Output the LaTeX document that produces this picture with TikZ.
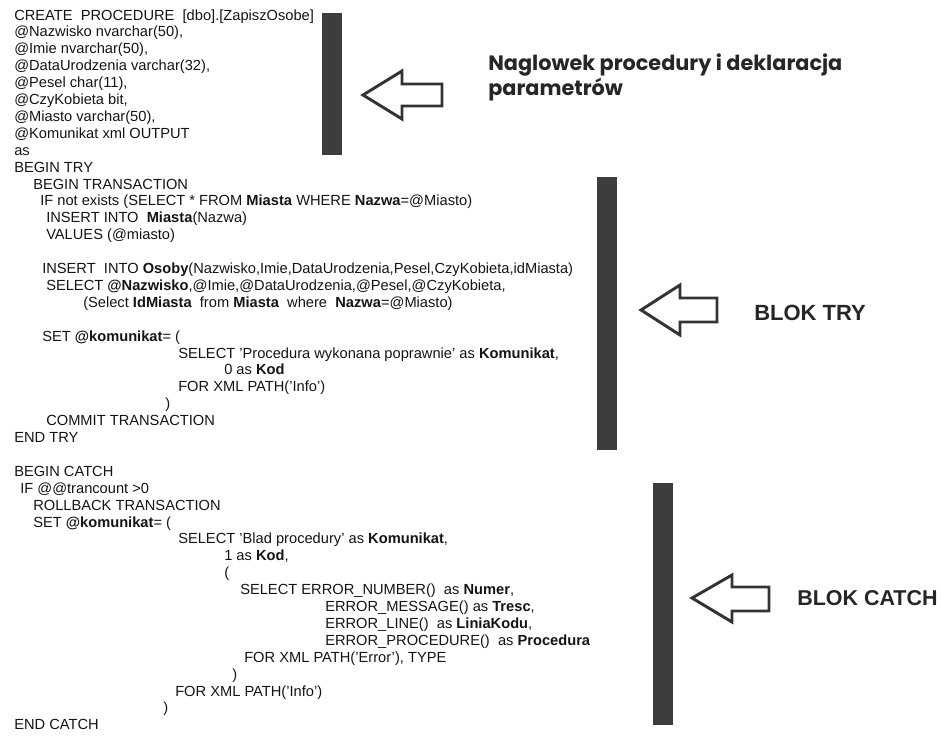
\documentclass[tikz,border=0pt]{standalone}
\usepackage{fontspec}
\setmainfont{Liberation Sans}
\newfontfamily\labfont{Poppins}
\begin{document}
\begin{tikzpicture}[x=0.75pt,y=-0.75pt]
\useasboundingbox (0,0) rectangle (941,736);
\tikzset{
  code/.style={anchor=base west,inner sep=0pt,font=\fontsize{11}{13}\selectfont,text=black!92},
  bar/.style={fill=black!76},
  harrow/.style={draw=black!80,line width=2.2pt,fill=white,line join=miter},
  headlab/.style={anchor=base west,inner sep=0pt,font=\labfont\bfseries\fontsize{15.6}{18}\selectfont,text=black!85},
  bloklab/.style={anchor=west,inner sep=0pt,font=\bfseries\fontsize{16.5}{18}\selectfont,text=black!85}
}
\newcommand\codeline[3]{\node[code] (l#1) at (#2,{20+(#1-1)*16.9}) {#3};}
% code text
\codeline{1}{14}{CREATE\ \ PROCEDURE\ \ [dbo].[ZapiszOsobe]}
\codeline{2}{14}{@Nazwisko nvarchar(50),}
\codeline{3}{14}{@Imie nvarchar(50),}
\codeline{4}{14}{@DataUrodzenia varchar(32),}
\codeline{5}{14}{@Pesel char(11),}
\codeline{6}{14}{@CzyKobieta bit,}
\codeline{7}{14}{@Miasto varchar(50),}
\codeline{8}{14}{@Komunikat xml OUTPUT}
\codeline{9}{14}{as}
\codeline{10}{14}{BEGIN TRY}
\codeline{11}{33}{BEGIN TRANSACTION}
\codeline{12}{40}{IF not exists (SELECT * FROM \textbf{Miasta} WHERE \textbf{Nazwa}=@Miasto)}
\codeline{13}{46}{INSERT INTO \ \textbf{Miasta}(Nazwa)}
\codeline{14}{46}{VALUES (@miasto)}
\codeline{16}{42}{INSERT \ INTO \textbf{Osoby}(Nazwisko,Imie,DataUrodzenia,Pesel,CzyKobieta,idMiasta)}
\codeline{17}{46}{SELECT \textbf{@Nazwisko},@Imie,@DataUrodzenia,@Pesel,@CzyKobieta,}
\codeline{18}{83}{(Select \textbf{IdMiasta} \ from \textbf{Miasta} \ where \ \textbf{Nazwa}=@Miasto)}
\codeline{20}{42}{SET \textbf{@komunikat}= (}
\codeline{21}{178}{SELECT 'Procedura wykonana poprawnie' as \textbf{Komunikat},}
\codeline{22}{224}{0 as \textbf{Kod}}
\codeline{23}{178}{FOR XML PATH('Info')}
\codeline{24}{165}{)}
\codeline{25}{46}{COMMIT TRANSACTION}
\codeline{26}{14}{END TRY}
\codeline{28}{14}{BEGIN CATCH}
\codeline{29}{20}{IF @@trancount >0}
\codeline{30}{33}{ROLLBACK TRANSACTION}
\codeline{31}{33}{SET \textbf{@komunikat}= (}
\codeline{32}{178}{SELECT 'Blad procedury' as \textbf{Komunikat},}
\codeline{33}{224}{1 as \textbf{Kod},}
\codeline{34}{224}{(}
\codeline{35}{240}{SELECT ERROR\_NUMBER() \ as \textbf{Numer},}
\codeline{36}{325}{ERROR\_MESSAGE() as \textbf{Tresc},}
\codeline{37}{325}{ERROR\_LINE() \ as \textbf{LiniaKodu},}
\codeline{38}{325}{ERROR\_PROCEDURE() \ as \textbf{Procedura}}
\codeline{39}{244}{FOR XML PATH('Error'), TYPE}
\codeline{40}{232}{)}
\codeline{41}{175}{FOR XML PATH('Info')}
\codeline{42}{163}{)}
\codeline{43}{14}{END CATCH}
% bars
\fill[bar] (322,13) rectangle (342,155);
\fill[bar] (597,177) rectangle (617,450);
\fill[bar] (653,483) rectangle (673,725);
% hollow arrows
\draw[harrow] (363,95) -- (402,71) -- (402,84) -- (442,84) -- (442,106) -- (402,106) -- (402,119) -- cycle;
\draw[harrow] (641,310) -- (680,285) -- (680,298) -- (717,298) -- (717,322) -- (680,322) -- (680,335) -- cycle;
\draw[harrow] (692,598) -- (732,575) -- (732,587) -- (769,587) -- (769,611) -- (732,611) -- (732,622) -- cycle;
% labels
\node[headlab] (h1) at (488,70) {Naglowek procedury i deklaracja};
\node[headlab] (h2) at (488,95) {parametrów};
\node[bloklab] (t1) at (754,313) {BLOK TRY};
\node[bloklab,font=\bfseries\fontsize{16.1}{18}\selectfont] (t2) at (797,598) {BLOK CATCH};
\end{tikzpicture}
\end{document}
